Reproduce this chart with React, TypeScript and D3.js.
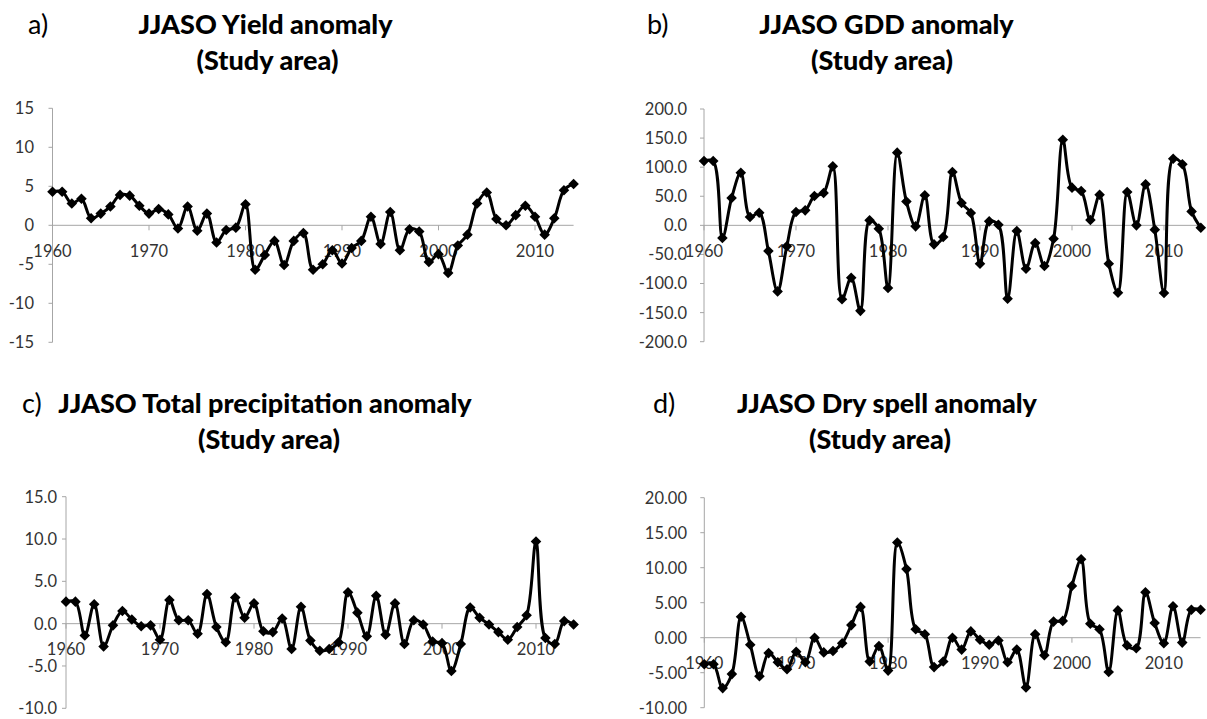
import React from "react";
import * as d3 from "d3";

const years = [
  1960, 1961, 1962, 1963, 1964, 1965, 1966, 1967, 1968, 1969,
  1970, 1971, 1972, 1973, 1974, 1975, 1976, 1977, 1978, 1979,
  1980, 1981, 1982, 1983, 1984, 1985, 1986, 1987, 1988, 1989,
  1990, 1991, 1992, 1993, 1994, 1995, 1996, 1997, 1998, 1999,
  2000, 2001, 2002, 2003, 2004, 2005, 2006, 2007, 2008, 2009,
  2010, 2011, 2012, 2013, 2014,
];

const xTickLabels = [1960, 1970, 1980, 1990, 2000, 2010];

const yieldAnomaly = [
  4.3, 4.3, 2.8, 3.4, 0.9, 1.5, 2.4, 3.9, 3.8, 2.5,
  1.5, 2.1, 1.4, -0.4, 2.4, -0.7, 1.5, -2.2, -0.6, -0.3,
  2.7, -5.7, -3.8, -2.0, -5.1, -2.0, -1.0, -5.7, -5.0, -3.2,
  -4.9, -2.9, -2.0, 1.1, -2.4, 1.7, -3.2, -0.5, -0.8, -4.7,
  -3.7, -6.1, -2.6, -1.2, 2.8, 4.2, 0.8, 0.0, 1.3, 2.5,
  1.1, -1.2, 0.9, 4.5, 5.3,
];

const gddAnomaly = [
  110.6, 110.6, -21.8, 47, 90.5, 14.3, 21.8, -44, -113.5, -36,
  23, 25.8, 50.4, 55.6, 101.4, -127, -90, -147, 8.6, -5.7,
  -107.7, 125, 41, -1.7, 51.6, -32.7, -20, 91.7, 38.4, 21.2,
  -65.9, 6.9, 1.1, -126, -9.7, -74.5, -30.4, -70, -23, 147,
  64.8, 59, 9.2, 52.7, -65.9, -115.8, 57.3, 0, 70.5, -7.4,
  -116.3, 114.6, 104.9, 24, -4,
];

const precipAnomaly = [
  2.6, 2.6, -1.4, 2.3, -2.7, -0.2, 1.5, 0.5, -0.3, -0.2,
  -1.9, 2.8, 0.4, 0.4, -1.2, 3.5, -0.4, -2.2, 3.1, 0.7,
  2.4, -0.9, -1.0, 0.6, -3.0, 2.0, -2.0, -3.2, -3.0, -2.2,
  3.7, 1.3, -1.5, 3.3, -1.3, 2.4, -2.4, 0.4, -0.1, -2.1,
  -2.3, -5.6, -2.4, 1.9, 0.7, -0.1, -1.0, -1.9, -0.4, 1.0,
  9.7, -1.7, -2.4, 0.3, -0.1,
];

const drySpellAnomaly = [
  -3.8, -3.8, -7.2, -5.2, 3.0, -1.0, -5.5, -2.2, -3.5, -4.5,
  -2.0, -3.5, 0.0, -2.1, -1.9, -0.8, 1.8, 4.4, -3.4, -1.2,
  -4.7, 13.6, 9.8, 1.2, 0.5, -4.2, -3.4, 0.0, -1.7, 0.9,
  -0.3, -1.0, -0.4, -3.5, -1.7, -7.1, 0.5, -2.5, 2.3, 2.4,
  7.4, 11.2, 2.0, 1.2, -4.9, 3.9, -1.1, -1.5, 6.5, 2.1,
  -0.8, 4.5, -0.7, 4.0, 4.0,
];

const yTicksA = [-15, -10, -5, 0, 5, 10, 15];
const yTicksB = [-200, -150, -100, -50, 0, 50, 100, 150, 200];
const yTicksC = [-10, -5, 0, 5, 10, 15];
const yTicksD = [-10, -5, 0, 5, 10, 15, 20];

const titlesLine1 = [
  "JJASO Yield anomaly",
  "JJASO GDD anomaly",
  "JJASO Total precipitation anomaly",
  "JJASO Dry spell anomaly",
];
const panelLetters = ["a)", "b)", "c)", "d)"];
const subtitle = "(Study area)";

type Panel = {
  values: number[];
  ticks: number[];
  decimals: number;
  x0: number;
  x1: number;
  yTop: number;
  yBot: number;
  labelRight: number;
  title: string;
  letter: string;
  letterX: number;
  titleCx: number;
  subCx: number;
  base1: number;
  base2: number;
};

const panels: Panel[] = [
  {
    values: yieldAnomaly, ticks: yTicksA, decimals: 0,
    x0: 52.5, x1: 573.6, yTop: 108.3, yBot: 342.3, labelRight: 34,
    title: titlesLine1[0], letter: panelLetters[0], letterX: 28,
    titleCx: 265.5, subCx: 267.5, base1: 33.5, base2: 69.5,
  },
  {
    values: gddAnomaly, ticks: yTicksB, decimals: 1,
    x0: 704, x1: 1200.8, yTop: 109, yBot: 341.7, labelRight: 687,
    title: titlesLine1[1], letter: panelLetters[1], letterX: 647,
    titleCx: 886.5, subCx: 882, base1: 33.5, base2: 70,
  },
  {
    values: precipAnomaly, ticks: yTicksC, decimals: 1,
    x0: 66, x1: 573.6, yTop: 496.7, yBot: 708.3, labelRight: 57,
    title: titlesLine1[2], letter: panelLetters[2], letterX: 22,
    titleCx: 265, subCx: 269, base1: 413, base2: 448.5,
  },
  {
    values: drySpellAnomaly, ticks: yTicksD, decimals: 2,
    x0: 704.3, x1: 1200.6, yTop: 497.7, yBot: 707.7, labelRight: 687,
    title: titlesLine1[3], letter: panelLetters[3], letterX: 653,
    titleCx: 887, subCx: 880, base1: 413, base2: 449,
  },
];

const AXIS_COLOR = "#a6a6a6";
const TEXT_COLOR = "#333333";
const FONT = "Lato, 'Noto Sans', sans-serif";

const diamond = d3.symbol().type(d3.symbolSquare).size(56)() as string;

function ChartPanel({ p }: { p: Panel }) {
  const x = d3.scalePoint<number>().domain(years).range([p.x0, p.x1]);
  const ext = d3.extent(p.ticks) as [number, number];
  const y = d3.scaleLinear().domain(ext).range([p.yBot, p.yTop]);
  const line = d3
    .line<number>()
    .x((_, i) => x(years[i]) as number)
    .y((d) => y(d))
    .curve(d3.curveCatmullRom.alpha(0.5));
  const y0 = y(0);
  return (
    <g>
      <text x={p.letterX} y={p.base1} fontFamily={FONT} fontSize={27} fill="#000">
        {p.letter}
      </text>
      <text x={p.titleCx} y={p.base1} textAnchor="middle" fontFamily={FONT} fontWeight="900" fontSize={27} fill="#000">
        {p.title}
      </text>
      <text x={p.subCx} y={p.base2} textAnchor="middle" fontFamily={FONT} fontWeight="900" fontSize={27} fill="#000">
        {subtitle}
      </text>
      <line x1={p.x0} x2={p.x0} y1={p.yTop} y2={p.yBot} stroke={AXIS_COLOR} strokeWidth={1} />
      {p.ticks.map((t) => (
        <g key={"yt" + t}>
          <line x1={p.x0 - 4} x2={p.x0} y1={y(t)} y2={y(t)} stroke={AXIS_COLOR} strokeWidth={1} />
          <text x={p.labelRight} y={y(t)} dy="0.36em" textAnchor="end" fontFamily={FONT} fontSize={16.5} fill={TEXT_COLOR}>
            {t.toFixed(p.decimals)}
          </text>
        </g>
      ))}
      <line x1={p.x0} x2={p.x1} y1={y0} y2={y0} stroke={AXIS_COLOR} strokeWidth={1} />
      {xTickLabels.map((yr) => (
        <g key={"xt" + yr}>
          <line x1={x(yr)} x2={x(yr)} y1={y0} y2={y0 + 5} stroke={AXIS_COLOR} strokeWidth={1} />
          <text x={x(yr)} y={y0 + 25.5} dy="0.36em" textAnchor="middle" fontFamily={FONT} fontSize={16.5} fill={TEXT_COLOR}>
            {yr}
          </text>
        </g>
      ))}
      <path d={line(p.values) || ""} fill="none" stroke="#000" strokeWidth={3} strokeLinejoin="round" />
      {p.values.map((v, i) => (
        <path
          key={"m" + i}
          d={diamond}
          transform={`translate(${x(years[i])},${y(v)}) rotate(45)`}
          fill="#000"
        />
      ))}
    </g>
  );
}

export default function App() {
  return (
    <svg
      width={1207}
      height={719}
      viewBox="0 0 1207 719"
      style={{ position: "absolute", left: 0, top: 0, background: "#fff" }}
    >
      <rect x={0} y={0} width={1207} height={719} fill="#fff" />
      {panels.map((p, i) => (
        <ChartPanel key={i} p={p} />
      ))}
    </svg>
  );
}
